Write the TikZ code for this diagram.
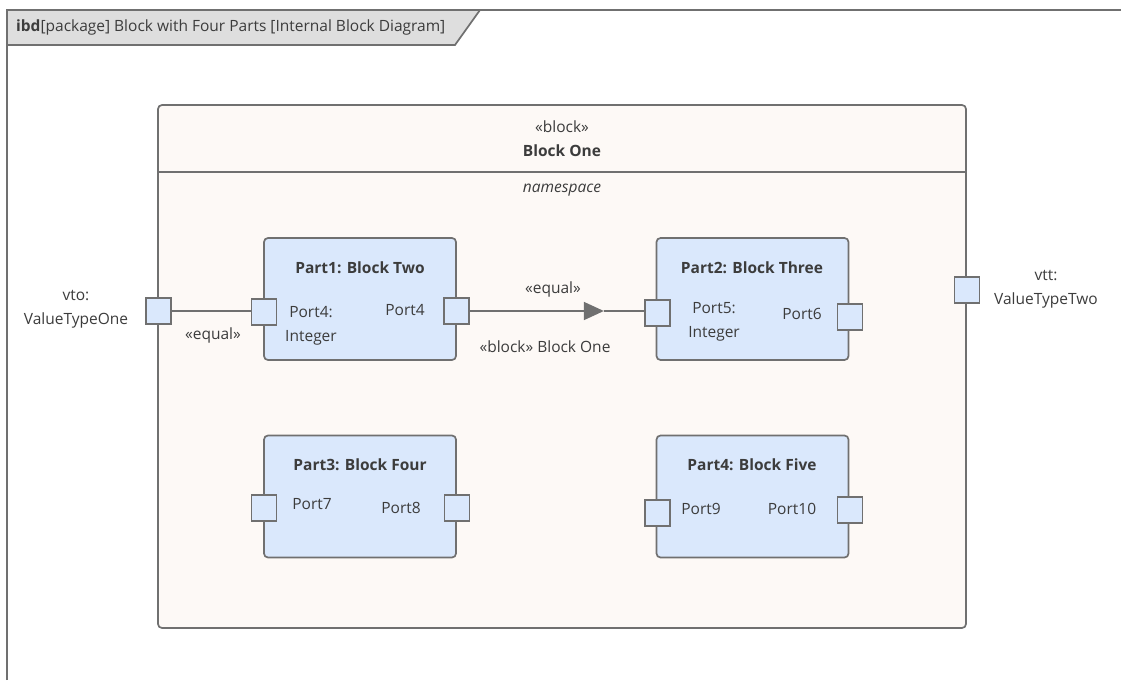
\documentclass[tikz,border=0pt]{standalone}
\usepackage{fontspec}
\setmainfont{Open Sans}
\usetikzlibrary{arrows.meta}
\usetikzlibrary{calc}
\definecolor{partfill}{RGB}{218,232,252}
\definecolor{blockfill}{RGB}{253,249,246}
\definecolor{tabfill}{RGB}{222,222,222}
\definecolor{edgegray}{RGB}{112,112,112}
\definecolor{txtgray}{RGB}{60,60,60}
\tikzset{
	part/.style={draw=edgegray, fill=partfill, rounded corners=4pt, line width=1.7pt, minimum width=192pt, minimum height=122pt, inner sep=0pt},
	port/.style={draw=edgegray, fill=partfill, line width=1.7pt, minimum width=25pt, minimum height=26pt, inner sep=0pt},
	lbl/.style={text=txtgray, font=\fontsize{15.5}{24}\selectfont, align=center, inner sep=0pt},
	ttl/.style={lbl, font=\fontsize{15.5}{24}\selectfont\bfseries},
	conn/.style={draw=edgegray, line width=1.7pt},
}

\begin{document}
\begin{tikzpicture}[x=1pt,y=-1pt]
		\useasboundingbox (0,0) rectangle (1121,680);
		% frame and tab
		\draw[edgegray,line width=1.7pt] (7,680) -- (7,10) -- (1121,10);
		\draw[edgegray,line width=1.7pt,fill=tabfill] (7,10) -- (480,10) -- (455,45) -- (7,45) -- cycle;
		\node[lbl,anchor=west] (frm) at (16,27) {\textbf{ibd}[package] Block with Four Parts [Internal Block Diagram]};
		% block one
		\node[draw=edgegray,fill=blockfill,rounded corners=4pt,line width=1.7pt,minimum width=808pt,minimum height=523pt] (blk) at (562,366.5) {};
		\draw[edgegray,line width=1.7pt] (blk.west |- 0,172) -- (blk.east |- 0,172);
		\node[lbl] (ster) at (562,127) {«block»};
		\node[ttl] (bname) at (562,151) {Block One};
		\node[lbl,font=\fontsize{15.5}{24}\selectfont\itshape] (ns) at (562,190) {namespace};
		% parts
		\node[part] (p1) at (360,299) {};
		\node[part] (p2) at (752.5,299) {};
		\node[part] (p3) at (360,496.5) {};
		\node[part] (p4) at (752.5,496.5) {};
		\node[ttl] at (360,268) {Part1: Block Two};
		\node[ttl] at (752,268) {Part2: Block Three};
		\node[ttl] at (360,465) {Part3: Block Four};
		\node[ttl] at (752,465) {Part4: Block Five};
		% ports
		\node[port] (vto) at (158.5,311) {};
		\node[port] (vtt) at (967,290) {};
		\node[port] (p1l) at (264,312) {};
		\node[port] (p1r) at (456.5,311) {};
		\node[port] (p2l) at (657.5,313) {};
		\node[port] (p2r) at (850,317) {};
		\node[port] (p3l) at (264,508) {};
		\node[port] (p3r) at (457,508) {};
		\node[port] (p4l) at (657.5,513) {};
		\node[port] (p4r) at (850,510) {};
		% port labels
		\node[lbl] at (76,309) {vto:\\ValueTypeOne};
		\node[lbl] at (1046,289) {vtt:\\ValueTypeTwo};
		\node[lbl] at (311,326) {Port4:\\Integer};
		\node[lbl] at (405,310) {Port4};
		\node[lbl] at (714,322) {Port5:\\Integer};
		\node[lbl] at (802,314) {Port6};
		\node[lbl] at (312,504) {Port7};
		\node[lbl] at (401,508) {Port8};
		\node[lbl] at (701,509) {Port9};
		\node[lbl] at (792,509) {Port10};
		% connectors
		\draw[conn] (vto.east) -- (p1l.west |- vto.east);
		\node[lbl] at (213,335) {«equal»};
		\coordinate (m) at ($ (p1r.east) + (134,0) $);
		\draw[conn,-{Triangle[length=20pt,width=18pt]}] (p1r.east) -- (m);
		\draw[conn] (m) -- (p2l.west |- m);
		\node[lbl] at (553,289) {«equal»};
		\node[lbl] at (545,347) {«block» Block One};
	\end{tikzpicture}
\end{document}
